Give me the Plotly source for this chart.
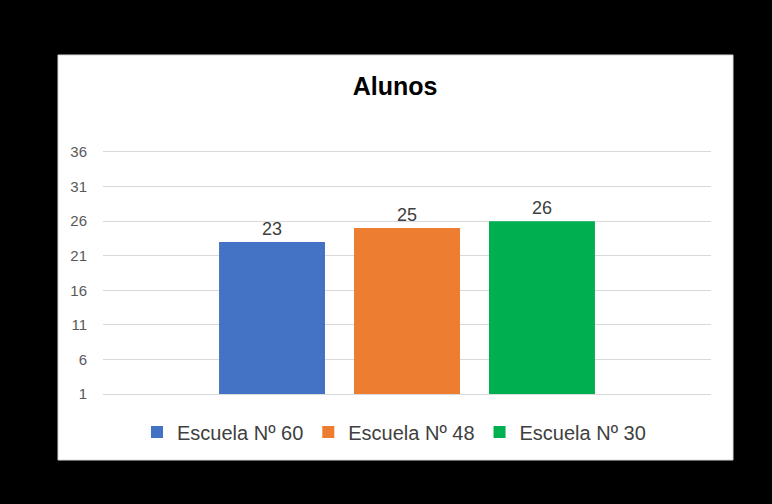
import plotly.graph_objects as go

series_names = ["Escuela Nº 60", "Escuela Nº 48", "Escuela Nº 30"]
series_values = [23, 25, 26]
series_colors = ["#4472C4", "#ED7D31", "#00B050"]
category = ["Alunos"]
tick_values = [1, 6, 11, 16, 21, 26, 31, 36]

FONT = "Liberation Sans, Arial, sans-serif"

fig = go.Figure()
for name, val, col in zip(series_names, series_values, series_colors):
    fig.add_trace(go.Bar(
        x=category, y=[val], name=name, marker=dict(color=col, line=dict(width=0)),
        text=[str(val)], textposition="outside", cliponaxis=False,
        textfont=dict(size=18, color="#404040", family=FONT),
    ))

L, R, T, B = 103, 61, 152, 110
W, H = 772, 504
pw, ph = W - L - R, H - T - B

def px2paper_x(px):
    return (px - L) / pw

def px2paper_y(py):
    return (H - B - py) / ph

fig.add_shape(type="rect", xref="paper", yref="paper",
              x0=px2paper_x(58), x1=px2paper_x(733),
              y0=px2paper_y(460), y1=px2paper_y(55),
              fillcolor="white", line=dict(color="#d9d9d9", width=1), layer="below")

fig.update_layout(
    width=W, height=H,
    margin=dict(l=L, r=R, t=T, b=B),
    paper_bgcolor="black", plot_bgcolor="white",
    barmode="group", bargap=0.334, bargroupgap=0.215,
    title=dict(text="<b>Alunos</b>", x=px2paper_x(395), xref="paper", xanchor="center",
               y=(H - 86) / H, yref="container", yanchor="middle",
               font=dict(size=25, color="#000000", family=FONT)),
    xaxis=dict(showticklabels=False, showgrid=False, zeroline=False,
               showline=True, linecolor="#d9d9d9", linewidth=1, mirror=True,
               range=[-0.5, 0.5]),
    yaxis=dict(range=[1, 36], tickvals=tick_values, showgrid=True, gridcolor="#d9d9d9",
               gridwidth=1, zeroline=False, showline=False,
               tickfont=dict(size=15, color="#595959", family=FONT),
               ticks="outside", ticklen=12, tickcolor="rgba(0,0,0,0)"),
    legend=dict(orientation="h", x=px2paper_x(137), xanchor="left",
                y=px2paper_y(432), yanchor="middle",
                font=dict(size=20, color="#404040", family=FONT),
                bgcolor="rgba(0,0,0,0)", traceorder="normal"),
    showlegend=True,
)

fig.write_html("out.html")
